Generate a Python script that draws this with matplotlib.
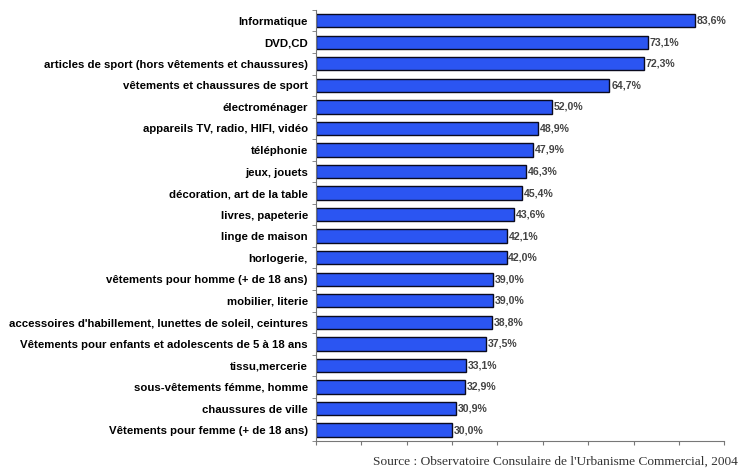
import matplotlib
matplotlib.use("Agg")
import matplotlib.pyplot as plt
import numpy as np

categories = [
    "Informatique",
    "DVD,CD",
    "articles de sport (hors vêtements et chaussures)",
    "vêtements et chaussures de sport",
    "électroménager",
    "appareils TV, radio, HIFI, vidéo",
    "téléphonie",
    "jeux, jouets",
    "décoration, art de la table",
    "livres, papeterie",
    "linge de maison",
    "horlogerie,",
    "vêtements pour homme (+ de 18 ans)",
    "mobilier, literie",
    "accessoires d'habillement, lunettes de soleil, ceintures",
    "Vêtements pour enfants et adolescents de 5 à 18 ans",
    "tissu,mercerie",
    "sous-vêtements fémme, homme",
    "chaussures de ville",
    "Vêtements pour femme (+ de 18 ans)",
]
values = [83.6, 73.1, 72.3, 64.7, 52.0, 48.9, 47.9, 46.3, 45.4, 43.6,
          42.1, 42.0, 39.0, 39.0, 38.8, 37.5, 33.1, 32.9, 30.9, 30.0]

fig = plt.figure(figsize=(7.42, 4.71), dpi=100)
ax = fig.add_axes([0.426, 0.064, 0.55, 0.915])

y = np.arange(len(categories))
ax.barh(y, values, height=0.62, color="#2b55f2", edgecolor="#0a0a1e", linewidth=1.0)

for yi, v in zip(y, values):
    txt = ("%.1f%%" % v).replace(".", ",")
    ax.text(v + 0.4, yi, txt, va="center", ha="left", fontsize=7.6,
            fontweight="bold", color="#444444", family="Liberation Sans")

ax.set_ylim(len(categories) - 0.5, -0.5)
ax.set_xlim(0, 90)
ax.set_xticks(np.arange(0, 91, 10))
ax.set_xticklabels([])
ax.set_yticks(y)
ax.set_yticklabels(categories, fontsize=8.2, fontweight="bold", family="Liberation Sans")
ax.set_yticks(np.arange(-0.5, len(categories), 1), minor=True)
ax.tick_params(axis="y", which="major", length=0, pad=6)
ax.tick_params(axis="y", which="minor", length=3, color="#777777")
ax.tick_params(axis="x", length=3, color="#777777")

for side in ["top", "right"]:
    ax.spines[side].set_visible(False)
ax.spines["left"].set_color("#777777")
ax.spines["bottom"].set_color("#777777")

fig.text(0.995, 0.006, "Source : Observatoire Consulaire de l'Urbanisme Commercial, 2004",
         ha="right", va="bottom", fontsize=9.6, family="Liberation Serif", color="#333333")

fig.savefig("out.png", dpi=100)
